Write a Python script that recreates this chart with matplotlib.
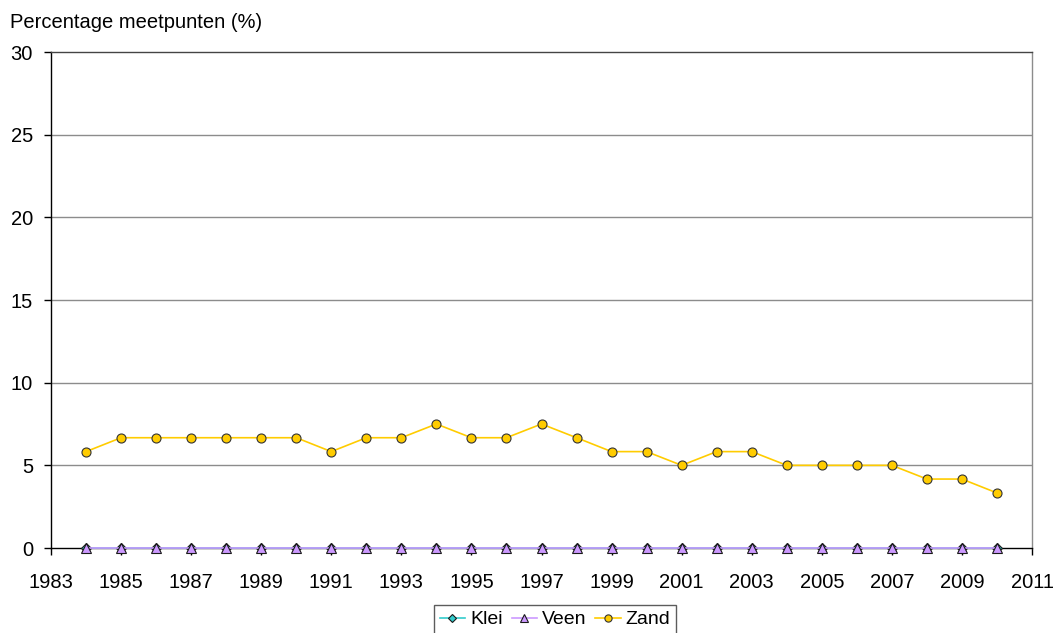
import matplotlib
matplotlib.use("Agg")
import matplotlib.pyplot as plt
from matplotlib.ticker import FixedLocator

plt.rcParams['font.family'] = ['Liberation Sans', 'DejaVu Sans']

years = list(range(1984, 2011))
klei = [0.0] * 27
veen = [0.0] * 27
zand = [5.83, 6.67, 6.67, 6.67, 6.67, 6.67, 6.67, 5.83, 6.67, 6.67, 7.5,
        6.67, 6.67, 7.5, 6.67, 5.83, 5.83, 5.0, 5.83, 5.83, 5.0, 5.0, 5.0,
        5.0, 4.17, 4.17, 3.33]
series_names = ["Klei", "Veen", "Zand"]
y_ticks = [0, 5, 10, 15, 20, 25, 30]
x_labels = list(range(1983, 2012, 2))

fig = plt.figure(figsize=(10.56, 6.33), dpi=100)
ax = fig.add_axes([51/1056, 1-548/633, (1032-51)/1056, (548-52)/633])

ax.plot(years, klei, color="#33CCCC", lw=1.2, marker="D", ms=5,
        mfc="#33CCCC", mec="#1a1a1a", mew=0.8, label=series_names[0],
        zorder=3, clip_on=False)
ax.plot(years, veen, color="#CC99FF", lw=1.2, marker="^", ms=6.5,
        mfc="#CC99FF", mec="#1a1a1a", mew=0.8, label=series_names[1],
        zorder=4, clip_on=False)
ax.plot(years, zand, color="#FFCC00", lw=1.2, marker="o", ms=6.5,
        mfc="#FFCC00", mec="#333333", mew=0.8, label=series_names[2],
        zorder=5, clip_on=False)

ax.set_xlim(1983, 2011)
ax.set_ylim(0, 30)
ax.yaxis.set_major_locator(FixedLocator(y_ticks))
ax.xaxis.set_major_locator(FixedLocator(x_labels))
ax.set_xticklabels([str(v) for v in x_labels])
ax.tick_params(axis='both', which='major', labelsize=14.5, direction='out',
               length=5, width=1, color='black')
ax.tick_params(axis='y', pad=8)
ax.tick_params(axis='x', pad=13)

for y in y_ticks[1:-1]:
    ax.axhline(y, color="#8c8c8c", lw=1, zorder=1)

ax.spines['left'].set_color('black')
ax.spines['bottom'].set_color('black')
ax.spines['top'].set_color('#444444')
ax.spines['right'].set_color('#8c8c8c')
for s in ax.spines.values():
    s.set_linewidth(1)

fig.text(10/1056, 1-22/633, "Percentage meetpunten (%)", fontsize=14.5,
         ha='left', va='center')

leg = ax.legend(loc='upper center', bbox_to_anchor=(555/1056, 1-605/633),
                bbox_transform=fig.transFigure, ncol=3, frameon=True,
                fancybox=False, edgecolor='#333333', fontsize=14,
                handlelength=1.3, handletextpad=0.26, columnspacing=0.46,
                borderpad=0.3, borderaxespad=0, markerscale=0.8)
leg.get_frame().set_linewidth(1)

fig.savefig("out.png", dpi=100)
